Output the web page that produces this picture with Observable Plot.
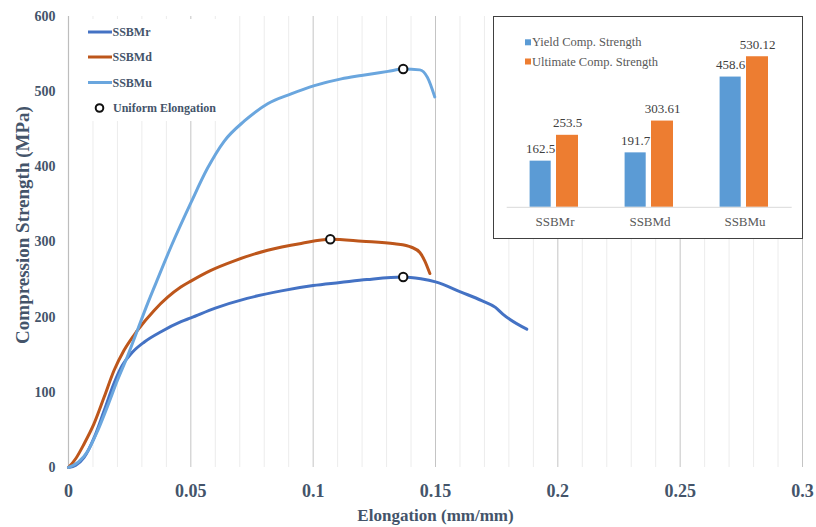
<!DOCTYPE html>
<html>
<head>
<meta charset="utf-8">
<script src="https://cdn.jsdelivr.net/npm/d3@7"></script>
<script src="https://cdn.jsdelivr.net/npm/@observablehq/plot@0.6"></script>
<style>
  html, body { margin: 0; padding: 0; background: #ffffff; }
  #wrap { position: relative; width: 816px; height: 527px; overflow: hidden; }
  #wrap > svg { position: absolute; left: 0; top: 0; }
  #inset { position: absolute; left: 493px; top: 16px; width: 310px; height: 223px; border: 1px solid #404040; box-sizing: border-box; background: #fff; }
  #inset svg { position: absolute; left: 0; top: 0; }
</style>
</head>
<body>
<div id="wrap"></div>
<script>
// ---------- Data: stress–strain curves ----------
const ssbmrX = [0, 0.003, 0.0063, 0.0104, 0.0145, 0.0186, 0.022, 0.026, 0.031, 0.038, 0.046, 0.05, 0.06, 0.073, 0.087, 0.1, 0.111, 0.122, 0.1368, 0.144, 0.15, 0.1607, 0.1689, 0.1745, 0.1775, 0.1873];
const ssbmrY = [0, 3, 13, 39, 75, 112, 136, 153, 167, 181, 194, 199, 212, 225, 235, 242, 246, 250, 253.5, 251, 247, 233, 222, 213, 204, 184];

const ssbmdX = [0, 0.003, 0.0063, 0.0104, 0.0145, 0.0186, 0.0227, 0.0281, 0.035, 0.0459, 0.05, 0.058, 0.0678, 0.0814, 0.0951, 0.107, 0.12, 0.1333, 0.1402, 0.1436, 0.1456, 0.1477];
const ssbmdY = [0, 12, 31, 58, 93, 129, 156, 182, 209, 240, 248, 262, 275, 289, 298, 303.61, 301, 297.6, 293, 286, 275, 258];

const ssbmuX = [0, 0.004, 0.0077, 0.0118, 0.0159, 0.02, 0.024, 0.0281, 0.0322, 0.0357, 0.0418, 0.05, 0.0568, 0.0636, 0.0719, 0.0814, 0.091, 0.1005, 0.1115, 0.1197, 0.1306, 0.1368, 0.1436, 0.1467, 0.1497];
const ssbmuY = [0, 7, 21, 48, 81, 116, 147, 182, 217, 245, 293, 352, 398, 434, 461, 484, 497, 508, 517, 521.5, 527, 530.12, 529, 519, 493];

// Uniform elongation points
const uniformX = [0.1368, 0.107, 0.1368];
const uniformY = [253.5, 303.61, 530.12];

// Axis ticks
const xTicks = [0, 0.05, 0.1, 0.15, 0.2, 0.25, 0.3];
const xMinorTicks = [0.01, 0.02, 0.03, 0.04, 0.06, 0.07, 0.08, 0.09, 0.11, 0.12, 0.13, 0.14, 0.16, 0.17, 0.18, 0.19, 0.21, 0.22, 0.23, 0.24, 0.26, 0.27, 0.28, 0.29];
const yTicks = [0, 100, 200, 300, 400, 500, 600];

// ---------- Data: inset bar chart ----------
const barCategories = ["SSBMr", "SSBMd", "SSBMu"];
const yieldStrength = [162.5, 191.7, 458.6];
const ultimateStrength = [253.5, 303.61, 530.12];
const yieldLabels = ["162.5", "191.7", "458.6"];
const ultimateLabels = ["253.5", "303.61", "530.12"];

// ---------- Styles ----------
const seriesNames = ["SSBMr", "SSBMd", "SSBMu"];
const seriesColors = ["#4472c4", "#bd561b", "#6aa6de"];
const axisColor = "#44546a";
const serif = '"Liberation Serif", "Times New Roman", Times, serif';

const curves = [
  {name: "SSBMr", xs: ssbmrX, ys: ssbmrY},
  {name: "SSBMd", xs: ssbmdX, ys: ssbmdY},
  {name: "SSBMu", xs: ssbmuX, ys: ssbmuY}
];
const lineData = curves.flatMap(c => c.xs.map((x, i) => ({series: c.name, x, y: c.ys[i]})));
const uniformData = uniformX.map((x, i) => ({x, y: uniformY[i]}));

const main = Plot.plot({
  width: 816,
  height: 527,
  marginLeft: 68,
  marginRight: 14,
  marginTop: 16,
  marginBottom: 60,
  style: {fontFamily: serif, background: "#ffffff", color: axisColor},
  x: {domain: [0, 0.3]},
  y: {domain: [0, 600]},
  color: {domain: seriesNames, range: seriesColors},
  marks: [
    Plot.ruleX(xMinorTicks, {stroke: "#ececec", strokeWidth: 1}),
    Plot.ruleX(xTicks.slice(1), {stroke: "#c4c4c4", strokeWidth: 1}),
    Plot.ruleX([0], {stroke: "#bdbdbd", strokeWidth: 1.2}),
    Plot.axisY(yTicks, {tickSize: 0, tickPadding: 13, fontSize: 14, fontWeight: "bold", label: null}),
    Plot.axisX(xTicks, {tickSize: 0, tickPadding: 17, fontSize: 18, fontWeight: "bold", tickFormat: d => String(d), label: null}),
    Plot.text(["Elongation (mm/mm)"], {frameAnchor: "bottom", dy: 53, fontSize: 17, fontWeight: "bold", fill: axisColor}),
    Plot.line(lineData, {x: "x", y: "y", z: "series", stroke: "series", strokeWidth: 3, curve: "monotone-x"}),
    Plot.dot(uniformData, {x: "x", y: "y", r: 4.2, stroke: "#111", strokeWidth: 2, fill: "#ffffff"})
  ]
});
const wrap = document.getElementById("wrap");
wrap.appendChild(main);

// ---------- Overlay: y-axis title and main legend ----------
const leg = d3.select(wrap).append("svg")
  .attr("width", 816).attr("height", 527)
  .style("position", "absolute").style("left", 0).style("top", 0);
leg.append("text")
  .attr("transform", "translate(22,225) rotate(-90)")
  .attr("text-anchor", "middle").attr("dominant-baseline", "central")
  .attr("font-family", serif).attr("font-weight", "bold").attr("font-size", 19).attr("fill", axisColor)
  .text("Compression Strength (MPa)");
leg.append("rect").attr("x", 71).attr("y", 19).attr("width", 148).attr("height", 102).attr("fill", "#fff");
const legY = [32, 57, 82.5];
seriesNames.forEach((n, i) => {
  leg.append("line").attr("x1", 88).attr("x2", 112).attr("y1", legY[i]).attr("y2", legY[i])
    .attr("stroke", seriesColors[i]).attr("stroke-width", 3);
  leg.append("text").attr("x", 112.5).attr("y", legY[i]).attr("dominant-baseline", "central")
    .attr("font-family", serif).attr("font-weight", "bold").attr("font-size", 12).attr("fill", axisColor).text(n);
});
leg.append("circle").attr("cx", 99.5).attr("cy", 108).attr("r", 3.8).attr("fill", "#fff").attr("stroke", "#111").attr("stroke-width", 2);
leg.append("text").attr("x", 113).attr("y", 108).attr("dominant-baseline", "central")
  .attr("font-family", serif).attr("font-weight", "bold").attr("font-size", 12).attr("fill", axisColor).text("Uniform Elongation");

// ---------- Inset bar chart ----------
const insetDiv = document.createElement("div");
insetDiv.id = "inset";
wrap.appendChild(insetDiv);

const yieldData = barCategories.map((c, i) => ({cat: c, v: yieldStrength[i], label: yieldLabels[i]}));
const ultData = barCategories.map((c, i) => ({cat: c, v: ultimateStrength[i], label: ultimateLabels[i]}));

const inset = Plot.plot({
  width: 308,
  height: 221,
  marginLeft: 12.7,
  marginRight: 10.3,
  marginTop: 19.4,
  marginBottom: 31.2,
  style: {fontFamily: serif, background: "transparent", color: "#595959"},
  x: {domain: barCategories, padding: 0},
  y: {domain: [0, 600], axis: null},
  marks: [
    Plot.barY(yieldData, {x: "cat", y: "v", fill: "#5b9bd5", insetLeft: 22.6, insetRight: 51.3}),
    Plot.barY(ultData, {x: "cat", y: "v", fill: "#ed7d31", insetLeft: 49, insetRight: 24}),
    Plot.ruleY([0], {stroke: "#d9d9d9", strokeWidth: 1}),
    Plot.text(yieldData, {x: "cat", y: "v", text: "label", dx: -14.3, dy: -12, fontSize: 13, fill: "#404040"}),
    Plot.text(ultData, {x: "cat", y: "v", text: "label", dx: 12.5, dy: -12, fontSize: 13, fill: "#404040"}),
    Plot.axisX({tickSize: 0, tickPadding: 9, fontSize: 13, label: null})
  ]
});
insetDiv.appendChild(inset);

// inset legend
const ileg = d3.select(insetDiv).append("svg").attr("width", 308).attr("height", 221);
const ilegItems = [["Yield Comp. Strength", "#5b9bd5", 25.3], ["Ultimate Comp. Strength", "#ed7d31", 44.5]];
ilegItems.forEach(([t, c, y]) => {
  ileg.append("rect").attr("x", 31).attr("y", y - 3).attr("width", 6).attr("height", 6).attr("fill", c);
  ileg.append("text").attr("x", 38).attr("y", y).attr("dominant-baseline", "central")
    .attr("font-family", serif).attr("font-size", 12.5).attr("fill", "#595959").text(t);
});
</script>
</body>
</html>
